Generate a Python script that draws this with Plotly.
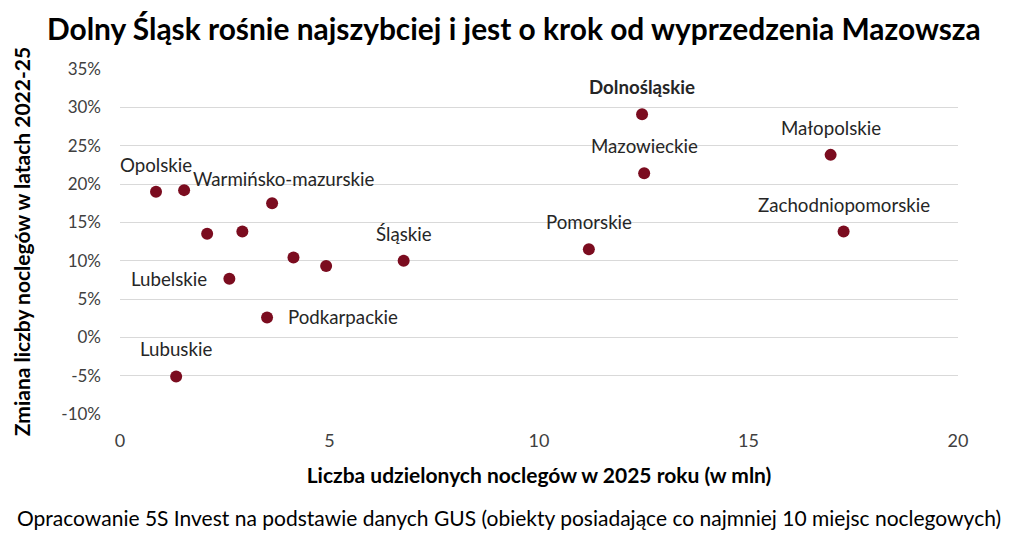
import plotly.graph_objects as go

regions = ["Opolskie", "Warmińsko-mazurskie", "Wielkopolskie", "Kujawsko-pomorskie", "Łódzkie",
           "Podlaskie", "Świętokrzyskie", "Śląskie", "Lubelskie", "Podkarpackie", "Lubuskie",
           "Dolnośląskie", "Mazowieckie", "Małopolskie", "Zachodniopomorskie", "Pomorskie"]
nights_mln = [0.86, 1.53, 3.63, 2.08, 2.92, 4.14, 4.92, 6.77, 2.61, 3.51, 1.34,
              12.46, 12.51, 16.96, 17.27, 11.19]
change_pct = [19.0, 19.2, 17.5, 13.5, 13.8, 10.4, 9.3, 10.0, 7.65, 2.6, -5.1,
              29.1, 21.4, 23.8, 13.8, 11.5]
labelled = ["Opolskie", "Warmińsko-mazurskie", "Śląskie", "Lubelskie", "Podkarpackie", "Lubuskie",
            "Dolnośląskie", "Mazowieckie", "Małopolskie", "Zachodniopomorskie", "Pomorskie"]
y_ticks = [-10, -5, 0, 5, 10, 15, 20, 25, 30, 35]
y_tick_labels = ["-10%", "-5%", "0%", "5%", "10%", "15%", "20%", "25%", "30%", "35%"]
x_ticks = [0, 5, 10, 15, 20]

FONT = "Lato"
MARK = "#7B0C1F"

fig = go.Figure()
fig.add_trace(go.Scatter(
    x=nights_mln, y=change_pct, mode="markers",
    marker=dict(color=MARK, size=12),
    hoverinfo="text", text=regions, showlegend=False,
))

# label placement styles: (xanchor, xshift, yshift)
place = {
    "Warmińsko-mazurskie": ("left", 7, 11),
    "Lubelskie": ("right", -20, 0),
    "Podkarpackie": ("left", 19, 0),
}
for name, xv, yv in zip(regions, nights_mln, change_pct):
    if name not in labelled:
        continue
    xa, xs, ys = place.get(name, ("center", 0, 27))
    txt = f"<b>{name}</b>" if name == "Dolnośląskie" else name
    fig.add_annotation(x=xv, y=yv, text=txt, showarrow=False, xanchor=xa, yanchor="middle",
                       xshift=xs, yshift=ys, font=dict(family=FONT, size=18.7, color="#262626"))

fig.add_annotation(xref="paper", yref="paper", x=0.5, y=-0.299, xshift=-30, showarrow=False,
                   text="Opracowanie 5S Invest na podstawie danych GUS (obiekty posiadające co najmniej 10 miejsc noclegowych)",
                   font=dict(family=FONT, size=21, color="#000000"), xanchor="center", yanchor="middle")

fig.update_layout(
    width=1024, height=542,
    margin=dict(l=112, r=74, t=61, b=136, autoexpand=False),
    paper_bgcolor="white", plot_bgcolor="white",
    font=dict(family=FONT),
    title=dict(text="<b>Dolny Śląsk rośnie najszybciej i jest o krok od wyprzedzenia Mazowsza</b>",
               x=0.494, xanchor="center", y=0.96, yanchor="middle",
               font=dict(family=FONT, size=29.9, color="#000000")),
    xaxis=dict(range=[0, 20], tickvals=x_ticks, showgrid=False, zeroline=False, showline=False,
               ticks="", automargin=False, ticklabelstandoff=14,
               tickfont=dict(family=FONT, size=18, color="#404040"),
               title=dict(text="<b>Liczba udzielonych noclegów w 2025 roku (w mln)</b>", standoff=18,
                          font=dict(family=FONT, size=21, color="#000000"))),
    yaxis=dict(range=[-10, 35], tickvals=y_ticks, ticktext=y_tick_labels, showgrid=True,
               gridcolor="#d9d9d9", gridwidth=1, zeroline=False, showline=False, ticks="",
               automargin=False, ticklabelstandoff=18,
               tickfont=dict(family=FONT, size=17, color="#404040"),
               title=dict(text="<b>Zmiana liczby noclegów w latach 2022-25</b>", standoff=24,
                          font=dict(family=FONT, size=21, color="#000000"))),
)

fig.write_html("out.html")
